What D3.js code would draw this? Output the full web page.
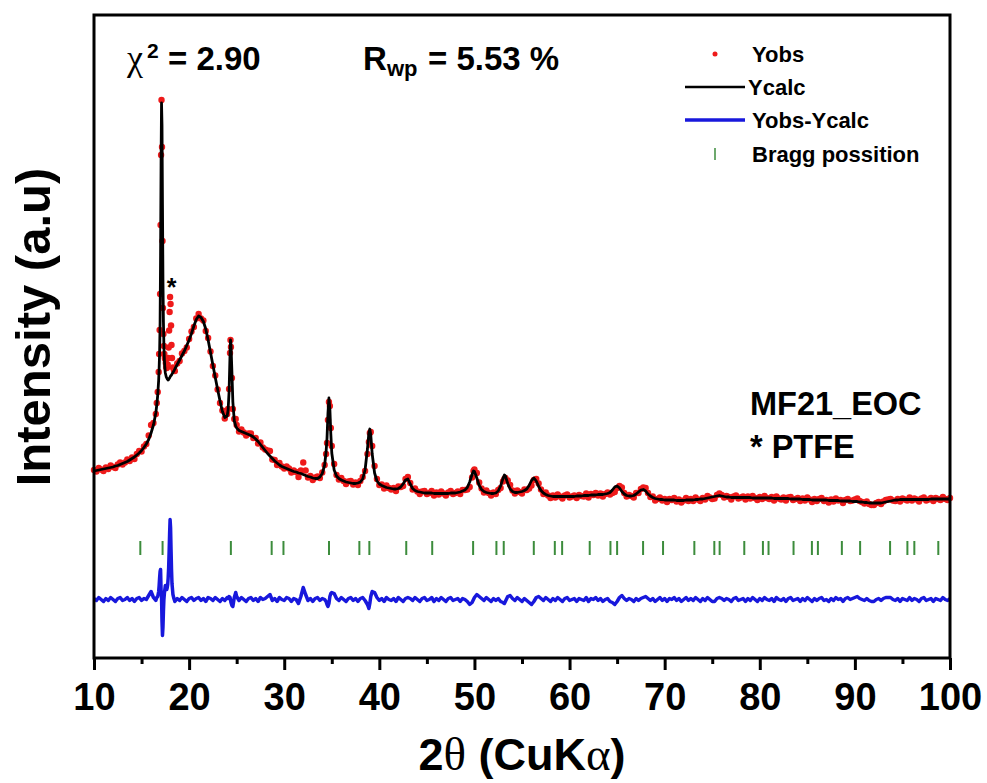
<!DOCTYPE html>
<html>
<head>
<meta charset="utf-8">
<script src="https://cdn.jsdelivr.net/npm/d3@7"></script>
<style>
  html, body { margin: 0; padding: 0; background: #fff; }
  svg { display: block; }
  text { font-family: "Liberation Sans", Arial, sans-serif; font-weight: bold; fill: #000; }
  .greek { font-family: "Liberation Serif", "Times New Roman", serif; font-weight: normal; }
</style>
</head>
<body>
<svg id="chart" width="987" height="783"></svg>
<script>
// ---- Rietveld refinement of MF21_EOC (intensity in arbitrary units) ----

// 2θ scan positions (degrees)
const twoTheta = [
  10,10.25,10.5,10.75,11,11.25,11.5,11.75,12,12.25,12.5,12.75,13,13.25,13.5,13.75,14,14.25,14.5,14.75,15,15.25,15.5,15.75,16,16.25,16.5,
  16.6,16.7,16.8,16.85,16.9,16.95,17,17.05,17.1,17.15,17.2,17.25,17.3,17.35,17.4,17.45,17.5,17.55,17.6,17.65,17.7,17.75,17.8,17.85,17.9,17.95,18,18.05,18.1,18.15,18.2,18.3,18.4,18.5,
  18.75,19,19.25,19.5,19.75,20,20.25,20.5,20.75,21,21.25,21.5,21.75,22,22.25,22.5,22.75,23,23.25,23.5,23.75,24,
  24.1,24.2,24.3,24.35,24.4,24.5,24.6,24.75,24.9,25,
  25.25,25.5,25.75,26,26.25,26.5,26.75,27,27.25,27.5,27.75,28,28.25,28.5,28.75,29,29.25,29.5,29.75,30,30.25,30.5,30.75,31,31.25,31.5,31.75,32,32.25,32.5,32.75,33,33.25,33.5,33.75,34,34.25,
  34.4,34.5,34.6,34.7,34.8,34.9,35,
  35.25,35.5,35.75,36,36.25,36.5,36.75,37,37.25,37.5,37.75,38,38.25,38.5,
  38.75,38.9,39,39.1,39.25,
  39.5,39.75,40,40.25,40.5,40.75,41,41.25,41.5,41.75,42,42.25,42.5,42.75,43,43.25,43.5,43.75,44,44.25,44.5,44.75,45,45.25,45.5,45.75,46,46.25,46.5,46.75,47,47.25,47.5,47.75,48,48.25,48.5,48.75,49,49.25,49.5,
  49.75,49.9,50,
  50.25,50.5,50.75,51,51.25,51.5,51.75,52,52.25,52.5,52.75,53,
  53.15,
  53.25,53.5,53.75,
  54,54.25,54.5,54.75, 55,55.25,55.5,55.75, 56,56.25,56.5,56.75, 57,57.25,57.5,57.75, 58,58.25,58.5,58.75,
  59,59.25,59.5,59.75, 60,60.25,60.5,60.75, 61,61.25,61.5,61.75, 62,62.25,62.5,62.75, 63,63.25,63.5,63.75,
  64,64.25,64.5,64.75, 65,65.25,65.5,65.75, 66,66.25,66.5,66.75, 67,67.25,67.5,67.75, 68,68.25,68.5,68.75,
  69,69.25,69.5,69.75, 70,70.25,70.5,70.75, 71,71.25,71.5,71.75, 72,72.25,72.5,72.75, 73,73.25,73.5,73.75,
  74,74.25,74.5,74.75, 75,75.25,75.5,75.75, 76,76.25,76.5,76.75, 77,77.25,77.5,77.75, 78,78.25,78.5,78.75,
  79,79.25,79.5,79.75, 80,80.25,80.5,80.75, 81,81.25,81.5,81.75, 82,82.25,82.5,82.75, 83,83.25,83.5,83.75,
  84,84.25,84.5,84.75, 85,85.25,85.5,85.75, 86,86.25,86.5,86.75, 87,87.25,87.5,87.75, 88,88.25,88.5,88.75,
  89,89.25,89.5,89.75, 90,90.25,90.5,90.75, 91,91.25,91.5,91.75, 92,92.25,92.5,92.75, 93,93.25,93.5,93.75,
  94,94.25,94.5,94.75, 95,95.25,95.5,95.75, 96,96.25,96.5,96.75, 97,97.25,97.5,97.75, 98,98.25,98.5,98.75,
  99,99.25,99.5,99.75, 100
];

// Observed intensity
const yObs = [
  188,186.5,190,188.5,187,190.5,189,192.5,191,190,193.5,195.5,193.5,195.5,198.5,197,200.5,199,204,207,206.5,211.5,214,222.5,233,235,244,
  255,266,286,304,328,364,433,503,558,511,417,350,324,312,304,300,299,295,291,290,291,293.5,300,310.5,327.5,346,361,354,332.5,313,300,290.5,288,287,
  294.5,297,304.5,307,310.5,319,326.5,331,339.5,344,339.5,337.5,327,320,306.5,292,282.5,268.5,255,247.5,239.5,244,
  249,269,305,318,311,280,249,239,239,233,
  226.5,228.5,225.5,222.5,224.5,224.5,220,220,214.5,215.5,210.5,208.5,207.5,207,198.5,198,193,195,191.5,189.5,191.5,189.5,185.5,187.5,186,181,187.5,195.5,187.5,180.5,182,178,180.5,181.5,180,185.5,193,
  204,215,238,256,252,230,212,
  194,183,178.5,180,177,174,176.5,177,173.5,175.5,173,177,181,187,
  204,216,225,226,212,
  192,179,173,173.5,169.5,172.5,170,168.5,170,167,171.5,171,172,179,181,175,168.5,169.5,166.5,164,166.5,167,164,165,167,162.5,165.5,163.5,166.5,164.5,162.5,165.5,167,164,165,166.5,164,168,168,168.5,171,
  180.5,187,188.5,
  185,175.5,169.5,165.5,167.5,165,162.5,165.5,164,168,170,176.5,
  179,
  180,177.5,173,
  167.5,164.5,167.5,166, 164.5,168.5,168,169.5, 172.5,178,179,174.5, 168.5,164,165.5,162.5, 160,162.5,160.5,163.5,
  161.5,159.5,162.5,163.5, 160.5,161.5,162.5,160, 163,162,161.5,164.5, 160.5,164,163,165, 162.5,164.5,161.5,164,
  165.5,163.5,165,166, 170,172,170.5,165, 161.5,163,162,160.5, 165,165,169,170.5, 170,165,161,161.5,
  157.5,159,160.5,157.5, 159,156,159,158, 160,156.5,158.5,155.5, 157.5,160,157,159, 157,160.5,158.5,157,
  160,158.5,162,160.5, 159,159.5,163,164.5, 163,160.5,162,161, 158.5,161.5,162.5,159.5, 160.5,161.5,158.5,161.5,
  159.5,162,160,158, 161,159,162,160, 159,161,157.5,161.5, 159.5,158.5,160.5,157.5, 160.5,161,158,159,
  160,157,159.5,157.5, 160.5,158.5,156,159, 157,159,160,157, 158,155.5,158.5,156.5, 159.5,157.5,158,155,
  158,159,157,157.5, 158.5,159.5,157,156, 154.5,156.5,154,153, 153,155,156,154, 156.5,158,158.5,159,
  157.5,157,159,156.5, 159.5,158.5,157.5,160.5, 157.5,159.5,158.5,156.5, 159.5,160.5,157.5,158.5, 160,157,160,159,
  158,161,159,158, 160
];

// Calculated profile
const yCalc = [
  187,187.5,188,188.5,189,189.5,190,190.5,191,192,192.5,193.5,194.5,195.5,196.5,198,199.5,201,203,205,207.5,210.5,214,218.5,225,233,245,
  253,263,278,290,306,336,403,493,555,533,453,378,336,312,298,290,285,283,281,280,279,278.5,278,278.5,279.5,280,281,282,282.5,283,284,285.5,287,289,
  293.5,298,302.5,307,312.5,318,324.5,332,338.5,342,340.5,336.5,329,318,305.5,293,280.5,268.5,257,246.5,240.5,242,
  248,266,303,318,314,286,256,237,232,230,
  227.5,226.5,225.5,224.5,223.5,222.5,221,219,216.5,213.5,210.5,207.5,204.5,202,199.5,197,195,193,191.5,190.5,189.5,188.5,187.5,186.5,186,185,184.5,183.5,182.5,181.5,181,180,179.5,179.5,181,184.5,193,
  206,220,245,260,249,224,205,
  188,182,179.5,178,177,176,175.5,175,174.5,174.5,175,176,179,188,
  209,225,229,223,204,
  185,177,174,172.5,171.5,170.5,170,169.5,169,169,169.5,171,174,178,179,174,169.5,167.5,166.5,166,165.5,165,165,165,165,164.5,164.5,164.5,164.5,164.5,164.5,164.5,165,165,165,165.5,166,167,168,170.5,176,
  183.5,187,186.5,
  180,172.5,168.5,166.5,165.5,165,164.5,164.5,165,167,172,179.5,
  183,
  182,174.5,169,
  166.5,165.5,165.5,166, 166.5,167.5,169,172.5, 177.5,180,177,171.5, 167.5,165,163.5,162.5, 162,161.5,161.5,161.5,
  161.5,161.5,161.5,161.5, 161.5,161.5,161.5,162, 162,162,162.5,162.5, 162.5,163,163,163, 163.5,163.5,163.5,164,
  164.5,165.5,168,171, 172,170,166.5,164, 162.5,162,162,162.5, 164,166,168,168.5, 167,164,162,160.5,
  159.5,159,158.5,158.5, 158,158,158,158, 158,157.5,157.5,157.5, 157.5,158,158,158, 158,158.5,158.5,159,
  159,159.5,160,160.5, 161,161.5,162,162.5, 162,161.5,161,161, 160.5,160.5,160.5,160.5, 160.5,160.5,160.5,160.5,
  160.5,160,160,160, 160,160,160,160, 160,160,159.5,159.5, 159.5,159.5,159.5,159.5, 159.5,159,159,159,
  159,159,158.5,158.5, 158.5,158.5,158,158, 158,158,158,158, 158,157.5,157.5,157.5, 157.5,157.5,157,157,
  157,157,157,156.5, 156.5,156.5,156,156, 155.5,155.5,155,155, 155,155,155,155, 155.5,156,156.5,157,
  157.5,158,158,158.5, 158.5,158.5,158.5,158.5, 158.5,158.5,158.5,158.5, 158.5,158.5,158.5,158.5, 159,159,159,159,
  159,159,159,159, 159
];

// Bragg reflection positions (2θ, degrees)
const braggPositions = [
  14.87, 17.21, 24.39, 28.68, 29.92, 34.71, 37.9, 38.95, 42.83, 45.56, 49.86, 52.31, 53.08,
  56.24, 58.45, 59.22, 62.12, 64.3, 65.0, 67.73, 69.83, 73.12, 75.22, 75.78, 78.37, 80.33, 80.92,
  83.55, 85.48, 86.11, 88.63, 90.55, 93.7, 95.52, 96.25, 98.77
];

// Axis ticks
const xMajorTicks = [10, 20, 30, 40, 50, 60, 70, 80, 90, 100];
const xMinorTicks = [15, 25, 35, 45, 55, 65, 75, 85, 95];

// Vertical placement of the lower panels, in intensity units
const diffOffset = 58.5;     // zero line of Yobs - Ycalc
const braggRow = 110;        // centre of the reflection markers
const braggHalf = 7;         // half-length of each marker

// ---- layout ----
const frame = { left: 94, right: 950, top: 15, bottom: 658 };
const colors = { obs: "#ee1a1a", calc: "#000000", diff: "#1818dc", bragg: "#3c8c3c" };

const svg = d3.select("#chart");

const x = d3.scaleLinear().domain([10, 100]).range([frame.left, frame.right]);
const y = d3.scaleLinear().domain([0, 643]).range([frame.bottom, frame.top]);

const n = Math.min(twoTheta.length, yObs.length, yCalc.length);
const points = d3.range(n).map(i => ({ t: twoTheta[i], obs: yObs[i], calc: yCalc[i] }));

// difference curve
svg.append("path")
  .datum(points)
  .attr("fill", "none")
  .attr("stroke", colors.diff)
  .attr("stroke-width", 3.5)
  .attr("stroke-linejoin", "round")
  .attr("d", d3.line().x(d => x(d.t)).y(d => y(d.obs - d.calc + diffOffset)));

// Bragg reflection markers
svg.append("g")
  .selectAll("line")
  .data(braggPositions)
  .join("line")
  .attr("x1", d => x(d)).attr("x2", d => x(d))
  .attr("y1", y(braggRow + braggHalf)).attr("y2", y(braggRow - braggHalf))
  .attr("stroke", colors.bragg)
  .attr("stroke-width", 2);

// observed points
svg.append("g")
  .selectAll("circle")
  .data(points)
  .join("circle")
  .attr("cx", d => x(d.t))
  .attr("cy", d => y(d.obs))
  .attr("r", 3.2)
  .attr("fill", colors.obs);

// calculated profile
svg.append("path")
  .datum(points)
  .attr("fill", "none")
  .attr("stroke", colors.calc)
  .attr("stroke-width", 2.8)
  .attr("stroke-linejoin", "round")
  .attr("d", d3.line().x(d => x(d.t)).y(d => y(d.calc)));

// frame
svg.append("rect")
  .attr("x", frame.left).attr("y", frame.top)
  .attr("width", frame.right - frame.left)
  .attr("height", frame.bottom - frame.top)
  .attr("fill", "none")
  .attr("stroke", "#000")
  .attr("stroke-width", 3);

// bottom axis: major ticks with labels, minor ticks without
const gMajor = svg.append("g")
  .attr("transform", `translate(0,${frame.bottom})`)
  .call(d3.axisBottom(x).tickValues(xMajorTicks).tickSize(12).tickPadding(13).tickFormat(d3.format("d")));
gMajor.attr("font-family", null).attr("font-size", null);
gMajor.select(".domain").remove();
gMajor.selectAll(".tick line").attr("stroke", "#000").attr("stroke-width", 3);
gMajor.selectAll(".tick text").attr("font-size", 38).attr("fill", "#000");

const gMinor = svg.append("g")
  .attr("transform", `translate(0,${frame.bottom})`)
  .call(d3.axisBottom(x).tickValues(xMinorTicks).tickSize(6).tickFormat(""));
gMinor.select(".domain").remove();
gMinor.selectAll(".tick line").attr("stroke", "#000").attr("stroke-width", 3);

// axis titles
const xTitle = svg.append("text")
  .attr("x", (frame.left + frame.right) / 2)
  .attr("y", 770)
  .attr("text-anchor", "middle")
  .attr("font-size", 45);
xTitle.append("tspan").text("2");
xTitle.append("tspan").attr("class", "greek").attr("font-size", 47).text("θ");
xTitle.append("tspan").text(" (CuK");
xTitle.append("tspan").attr("class", "greek").attr("font-size", 47).text("α");
xTitle.append("tspan").text(")");

svg.append("text")
  .attr("transform", "translate(50,327) rotate(-90)")
  .attr("text-anchor", "middle")
  .attr("font-size", 49)
  .text("Intensity (a.u)");

// refinement statistics
svg.append("text").attr("class", "greek").attr("x", 127).attr("y", 70).attr("font-size", 36).text("χ");
svg.append("text").attr("x", 147).attr("y", 58).attr("font-size", 21).text("2");
svg.append("text").attr("x", 168).attr("y", 70).attr("font-size", 33).text("= 2.90");

svg.append("text").attr("x", 363).attr("y", 70).attr("font-size", 33).text("R");
svg.append("text").attr("x", 387).attr("y", 76).attr("font-size", 22).text("wp");
svg.append("text").attr("x", 428).attr("y", 70).attr("font-size", 33).text("= 5.53 %");

// legend
const legendX = 715, legendText = 752;
svg.append("circle").attr("cx", legendX).attr("cy", 54).attr("r", 2.5).attr("fill", colors.obs);
svg.append("text").attr("x", legendText).attr("y", 62).attr("font-size", 22).text("Yobs");

svg.append("line").attr("x1", 685).attr("x2", 745).attr("y1", 87).attr("y2", 87)
  .attr("stroke", colors.calc).attr("stroke-width", 2.5);
svg.append("text").attr("x", legendText - 4).attr("y", 95).attr("font-size", 22).text("Ycalc");

svg.append("line").attr("x1", 685).attr("x2", 745).attr("y1", 120).attr("y2", 120)
  .attr("stroke", colors.diff).attr("stroke-width", 3.5);
svg.append("text").attr("x", legendText).attr("y", 128).attr("font-size", 22).text("Yobs-Ycalc");

svg.append("line").attr("x1", legendX).attr("x2", legendX).attr("y1", 148).attr("y2", 160)
  .attr("stroke", colors.bragg).attr("stroke-width", 1.5);
svg.append("text").attr("x", legendText).attr("y", 162).attr("font-size", 22).text("Bragg possition");

// sample annotations
svg.append("text").attr("x", 750).attr("y", 415).attr("font-size", 32.5).text("MF21_EOC");
svg.append("text").attr("x", 750).attr("y", 458).attr("font-size", 32.5).text("* PTFE");

// PTFE reflection marker
svg.append("text")
  .attr("x", x(18.15))
  .attr("y", 296)
  .attr("text-anchor", "middle")
  .attr("font-size", 25)
  .text("*");
</script>
</body>
</html>
